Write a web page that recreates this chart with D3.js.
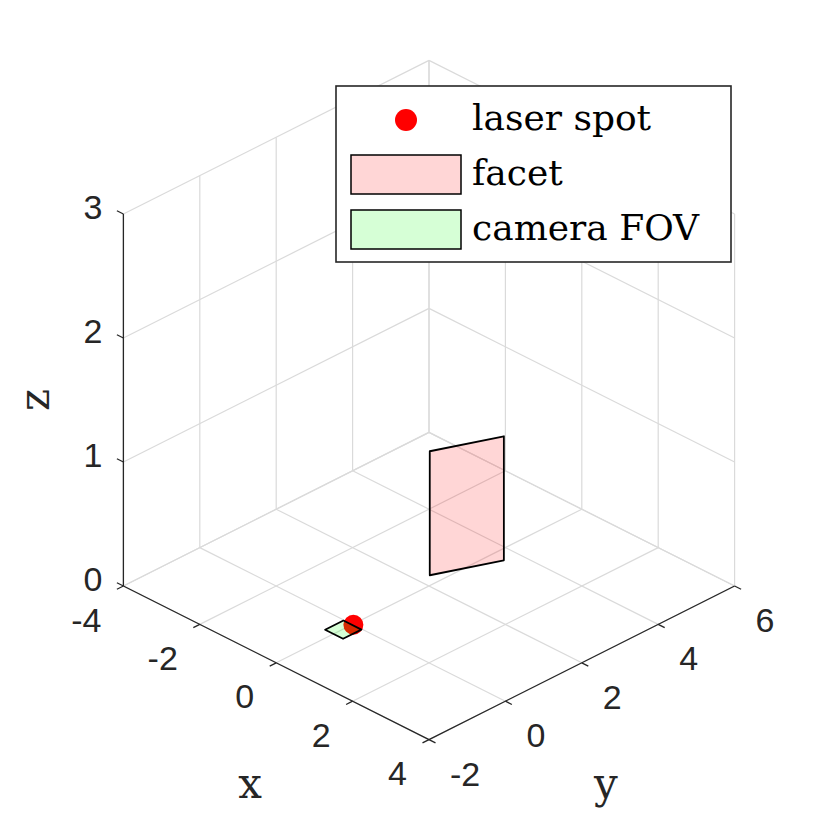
<!DOCTYPE html>
<html>
<head>
<meta charset="utf-8">
<style>
body { margin: 0; background: #fff; }
.tick { font-family: 'Liberation Sans', Arial, sans-serif; font-size: 34px; fill: #262626; }
.lbl { font-family: 'DejaVu Serif', serif; font-size: 42px; fill: #262626; }
.leg { font-family: 'DejaVu Serif', serif; font-size: 36px; fill: #000; }
</style>
</head>
<body>
<svg width="830" height="830"></svg>
<script src="https://cdn.jsdelivr.net/npm/d3@7"></script>
<script>

// data
var xTicks = [-4, -2, 0, 2, 4],
    yTicks = [-2, 0, 2, 4, 6],
    zTicks = [0, 1, 2, 3];

var facetX = [-0.27, 0.31, 0.31, -0.27],
    facetY = [2.29, 3.65, 3.65, 2.29],
    facetZ = [0, 0, 1, 1];

var fovX = [-0.22, -0.22, 0.25, 0.25],
    fovY = [-0.5, -0.02, -0.02, -0.5],
    fovZ = [0, 0, 0, 0];

var spotX = [0.02], spotY = [0], spotZ = [0];

var legendLabels = ["laser spot", "facet", "camera FOV"];

// projection (orthographic, view from az -45ish)
var svg = d3.select("svg");

var X = d3.scaleLinear().domain([-4, 4]).range([-1, 1]),
    Y = d3.scaleLinear().domain([-2, 6]).range([-1, 1]),
    Z = d3.scaleLinear().domain([0, 3]).range([0, 1]);

var cx = 429, cy = 586, hw = 152.8, hh = 76.8, H = 372;

function proj(x, y, z) {
  var u = X(x), v = Y(y);
  return [cx + (u + v) * hw, cy + (u - v) * hh - Z(z) * H];
}

function seg(g, a, b, stroke, w) {
  g.append("line")
    .attr("x1", a[0]).attr("y1", a[1])
    .attr("x2", b[0]).attr("y2", b[1])
    .attr("stroke", stroke)
    .attr("stroke-width", w);
}

// grid on back planes
var grid = svg.append("g");
var gc = "#dadada";
xTicks.forEach(function(t) {
  seg(grid, proj(t, -2, 0), proj(t, 6, 0), gc, 1.2);
  seg(grid, proj(t, 6, 0), proj(t, 6, 3), gc, 1.2);
});
yTicks.forEach(function(t) {
  seg(grid, proj(-4, t, 0), proj(4, t, 0), gc, 1.2);
  seg(grid, proj(-4, t, 0), proj(-4, t, 3), gc, 1.2);
});
zTicks.forEach(function(t) {
  seg(grid, proj(-4, -2, t), proj(-4, 6, t), gc, 1.2);
  seg(grid, proj(-4, 6, t), proj(4, 6, t), gc, 1.2);
});

// axes
var ax = svg.append("g");
var ac = "#262626";
seg(ax, proj(-4, -2, 0), proj(4, -2, 0), ac, 1.3);
seg(ax, proj(4, -2, 0), proj(4, 6, 0), ac, 1.3);
seg(ax, proj(-4, -2, 0), proj(-4, -2, 3), ac, 1.3);

xTicks.forEach(function(t) {
  var p = proj(t, -2, 0);
  seg(ax, p, proj(t, -2.17, 0), ac, 1.3);
  ax.append("text").attr("class", "tick")
    .attr("x", p[0] - 22).attr("y", p[1] + 45.5)
    .attr("text-anchor", "end")
    .text(t);
});
yTicks.forEach(function(t) {
  var p = proj(4, t, 0);
  seg(ax, p, proj(4.17, t, 0), ac, 1.3);
  ax.append("text").attr("class", "tick")
    .attr("x", p[0] + 21).attr("y", p[1] + 46)
    .attr("text-anchor", "start")
    .text(t);
});
zTicks.forEach(function(t) {
  var p = proj(-4, -2, t);
  seg(ax, p, proj(-4.17, -2, t), ac, 1.3);
  ax.append("text").attr("class", "tick")
    .attr("x", p[0] - 21).attr("y", p[1] + 5)
    .attr("text-anchor", "end")
    .text(t);
});

// axis labels
var xm = proj(0, -2, 0), ym = proj(4, 2, 0), zm = proj(-4, -2, 1.5);
svg.append("text").attr("class", "lbl")
  .attr("x", xm[0] - 26).attr("y", xm[1] + 135)
  .attr("text-anchor", "middle").text("x");
svg.append("text").attr("class", "lbl")
  .attr("x", ym[0] + 24).attr("y", ym[1] + 135)
  .attr("text-anchor", "middle").text("y");
svg.append("text").attr("class", "lbl")
  .attr("transform", "translate(" + (zm[0] - 74) + "," + zm[1] + ") rotate(-90)")
  .attr("text-anchor", "middle").text("z");

// marks
function poly(xs, ys, zs) {
  return xs.map(function(d, i) { return proj(xs[i], ys[i], zs[i]); });
}
var line = d3.line().curve(d3.curveLinearClosed);

svg.append("path")
  .attr("d", line(poly(facetX, facetY, facetZ)))
  .attr("fill", "red").attr("fill-opacity", 0.16)
  .attr("stroke", "#000").attr("stroke-width", 1.8)
  .attr("stroke-linejoin", "round");

svg.selectAll("circle.spot")
  .data(spotX.map(function(d, i) { return proj(spotX[i], spotY[i], spotZ[i]); }))
  .enter().append("circle")
  .attr("class", "spot")
  .attr("cx", function(d) { return d[0]; })
  .attr("cy", function(d) { return d[1]; })
  .attr("r", 10)
  .attr("fill", "red");

svg.append("path")
  .attr("d", line(poly(fovX, fovY, fovZ)))
  .attr("fill", "#00ff00").attr("fill-opacity", 0.16)
  .attr("stroke", "#000").attr("stroke-width", 1.8)
  .attr("stroke-linejoin", "round");

// legend
var leg = svg.append("g");
leg.append("rect")
  .attr("x", 336).attr("y", 86).attr("width", 395).attr("height", 176)
  .attr("fill", "#fff").attr("stroke", "#262626").attr("stroke-width", 1.6);
leg.append("circle").attr("cx", 406).attr("cy", 120).attr("r", 11).attr("fill", "red");
leg.append("rect").attr("x", 351).attr("y", 155).attr("width", 110).attr("height", 39)
  .attr("fill", "red").attr("fill-opacity", 0.16)
  .attr("stroke", "#000").attr("stroke-width", 1.5);
leg.append("rect").attr("x", 351).attr("y", 210).attr("width", 110).attr("height", 39)
  .attr("fill", "#00ff00").attr("fill-opacity", 0.16)
  .attr("stroke", "#000").attr("stroke-width", 1.5);
leg.selectAll("text.leg")
  .data(legendLabels)
  .enter().append("text")
  .attr("class", "leg")
  .attr("x", 472)
  .attr("y", function(d, i) { return 130 + i * 55; })
  .text(function(d) { return d; });

</script>
</body>
</html>
